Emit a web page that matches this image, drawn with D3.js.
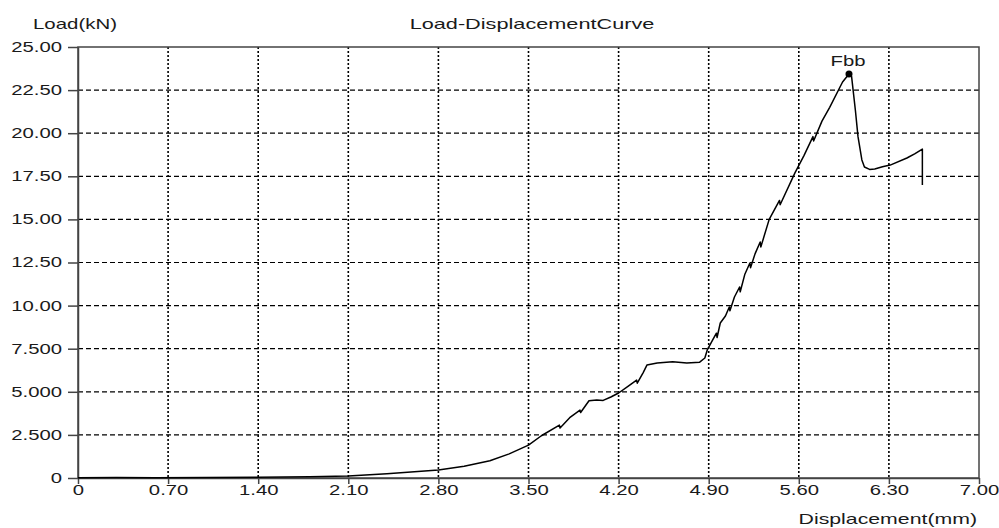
<!DOCTYPE html>
<html lang="en">
<head>
    <meta charset="UTF-8">
    <title>Load-DisplacementCurve</title>
    <script src="https://d3js.org/d3.v7.min.js"></script>
</head>

<style>
    body { margin: 0; background: #fff; }

    text {
        font-family: "Liberation Sans", Arial, sans-serif;
        font-size: 14px;
        fill: #1a1a1a;
    }

    .grid-x line {
        stroke: #000;
        stroke-width: 1.6px;
        stroke-dasharray: 2, 2;
    }

    .grid-y line {
        stroke: #000;
        stroke-width: 1.2px;
        stroke-dasharray: 5, 3;
    }

    .axis path, .axis line {
        stroke: #444;
        stroke-width: 1.5px;
    }

    .curve {
        fill: none;
        stroke: #000;
        stroke-width: 1.5px;
        stroke-linejoin: round;
    }
</style>

<body>
<svg width="999" height="528"></svg>

<script>
    // displacement (mm) / load (kN)
    var displacement = [0, 0.3, 0.6, 1.0, 1.4, 1.8, 2.1, 2.4, 2.8, 3.0, 3.2, 3.35, 3.5, 3.6, 3.74, 3.745,
        3.82, 3.9, 3.905, 3.97, 4.03, 4.08, 4.14, 4.2, 4.27, 4.34, 4.345, 4.39, 4.42, 4.5, 4.62, 4.73, 4.83,
        4.87, 4.89, 4.93, 4.96, 4.965, 4.99, 5.03, 5.06, 5.065, 5.10, 5.14, 5.145, 5.18, 5.22, 5.225, 5.26,
        5.30, 5.305, 5.37, 5.45, 5.455, 5.57, 5.64, 5.71, 5.715, 5.78, 5.84, 5.94, 5.99, 6.01, 6.04, 6.06,
        6.09, 6.11, 6.15, 6.19, 6.25, 6.31, 6.44, 6.5, 6.56, 6.56];
    var load = [0.02, 0.03, 0.02, 0.03, 0.05, 0.07, 0.12, 0.25, 0.47, 0.68, 1.0, 1.4, 1.91, 2.45, 3.07, 2.9,
        3.5, 3.94, 3.8, 4.48, 4.52, 4.5, 4.7, 4.93, 5.3, 5.68, 5.5, 6.1, 6.55, 6.67, 6.75, 6.67, 6.72,
        6.96, 7.45, 8.0, 8.4, 8.15, 8.99, 9.4, 9.92, 9.7, 10.5, 11.08, 10.8, 11.8, 12.47, 12.2, 13.0,
        13.69, 13.4, 15.0, 16.1, 15.85, 17.7, 18.7, 19.8, 19.55, 20.7, 21.5, 22.97, 23.43, 23.3, 21.3, 19.8,
        18.45, 18.04, 17.9, 17.92, 18.05, 18.15, 18.56, 18.8, 19.08, 17.0];

    var peak = {x: 5.99, y: 23.43, label: "Fbb"};

    var xTicks = [0, 0.7, 1.4, 2.1, 2.8, 3.5, 4.2, 4.9, 5.6, 6.3, 7.0];
    var yTicks = [0, 2.5, 5, 7.5, 10, 12.5, 15, 17.5, 20, 22.5, 25];

    var svg = d3.select("svg");

    var plotLeft = 78, plotRight = 979, plotTop = 47, plotBottom = 478;
    var stretch = 1.45; // the original text is drawn wide

    var x = d3.scaleLinear().domain([0, 7]).range([plotLeft, plotRight]);
    var y = d3.scaleLinear().domain([0, 25]).range([plotBottom, plotTop]);

    function yFormat(d) {
        if (d === 0) return "0";
        return d >= 10 ? d.toFixed(2) : d.toFixed(3);
    }
    function xFormat(d) {
        return d === 0 ? "0" : d.toFixed(2);
    }

    // grid
    svg.append("g")
        .attr("class", "grid-x")
        .selectAll("line")
        .data(xTicks.slice(1, -1))
        .enter().append("line")
        .attr("x1", function(d) { return x(d); })
        .attr("x2", function(d) { return x(d); })
        .attr("y1", plotTop)
        .attr("y2", plotBottom);

    svg.append("g")
        .attr("class", "grid-y")
        .selectAll("line")
        .data(yTicks.slice(1, -1))
        .enter().append("line")
        .attr("x1", plotLeft)
        .attr("x2", plotRight)
        .attr("y1", function(d) { return y(d); })
        .attr("y2", function(d) { return y(d); });

    // frame
    svg.append("rect")
        .attr("x", plotLeft)
        .attr("y", plotTop)
        .attr("width", plotRight - plotLeft)
        .attr("height", plotBottom - plotTop)
        .style("fill", "none")
        .style("stroke", "#444")
        .style("stroke-width", "1.5px");

    // axes
    var yAxis = svg.append("g")
        .attr("class", "axis")
        .attr("transform", "translate(" + plotLeft + ",0)")
        .call(d3.axisLeft(y).tickValues(yTicks).tickFormat(yFormat).tickSize(10).tickSizeOuter(0));

    yAxis.selectAll("text")
        .attr("x", 0)
        .attr("transform", "translate(-16,0) scale(" + stretch + ",1)");

    var xAxis = svg.append("g")
        .attr("class", "axis")
        .attr("transform", "translate(0," + plotBottom + ")")
        .call(d3.axisBottom(x).tickValues(xTicks).tickFormat(xFormat).tickSize(6).tickSizeOuter(0));

    xAxis.selectAll("text")
        .attr("y", 0)
        .attr("dy", 0)
        .attr("transform", "translate(0,17) scale(" + stretch + ",1)");

    svg.selectAll(".axis text")
        .style("font-family", "'Liberation Sans', Arial, sans-serif")
        .style("font-size", "14px")
        .style("fill", "#1a1a1a");

    // curve
    var points = displacement.map(function(d, i) { return [d, load[i]]; });

    var line = d3.line()
        .x(function(d) { return x(d[0]); })
        .y(function(d) { return y(d[1]); });

    svg.append("path")
        .datum(points)
        .attr("class", "curve")
        .attr("d", line);

    svg.append("circle")
        .attr("cx", x(peak.x))
        .attr("cy", y(peak.y))
        .attr("r", 3.5)
        .style("fill", "#000");

    svg.append("text")
        .attr("transform", "translate(" + (x(peak.x) - 1) + "," + (y(peak.y) - 8) + ") scale(" + stretch + ",1)")
        .attr("text-anchor", "middle")
        .text(peak.label);

    // titles
    svg.append("text")
        .attr("transform", "translate(532,29) scale(1.55,1)")
        .attr("text-anchor", "middle")
        .text("Load-DisplacementCurve");

    svg.append("text")
        .attr("transform", "translate(33,29) scale(1.46,1)")
        .text("Load(kN)");

    svg.append("text")
        .attr("transform", "translate(977,524) scale(1.52,1)")
        .attr("text-anchor", "end")
        .text("Displacement(mm)");
</script>
</body>
</html>
